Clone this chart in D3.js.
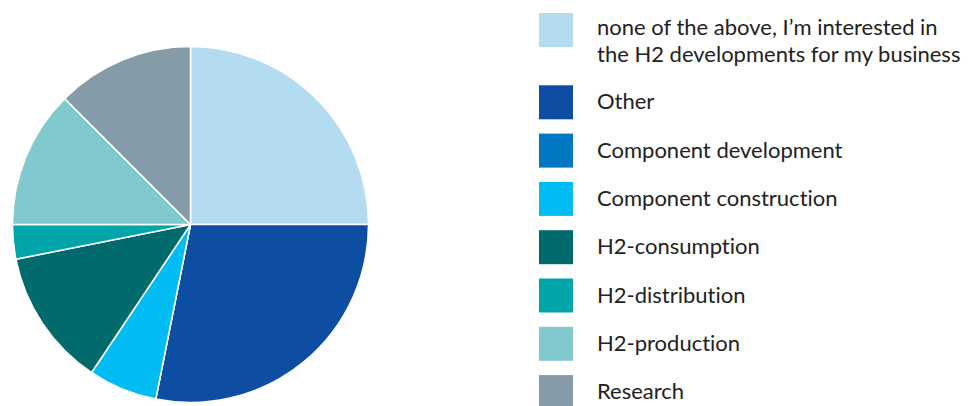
<!DOCTYPE html>
<html>
<head>
<meta charset="utf-8">
<script src="https://cdn.jsdelivr.net/npm/d3@7"></script>
<style>
	body { margin: 0; background: #fff; }
	svg { display: block; }
	.legend text { font-family: Lato, "Noto Sans", sans-serif; font-size: 22px; fill: #222; font-variant-ligatures: none; }
</style>
</head>
<body>
<svg id="chart"></svg>
<script>
// categories, in the order they go round the pie (clockwise from 12 o'clock)
var categories = [
	"none of the above, I\u2019m interested in|the H2 developments for my business",
	"Other",
	"Component development",
	"Component construction",
	"H2-consumption",
	"H2-distribution",
	"H2-production",
	"Research"
];

// number of answers per category
var values = [8, 9, 0, 2, 4, 1, 4, 4];

var colours = ["#b3dcf1", "#0d4ea3", "#0077c0", "#00bcf2", "#006a6c", "#00a5a9", "#80c9cf", "#859ba8"];

var width = 969,
	height = 406;

var svg = d3.select("svg#chart")
	.attr("width", width)
	.attr("height", height);

// ====================================================
// the pie
var radius = 178;

var pie = d3.pie()
	.sort(null)
	.value(function(d) { return d; });

var arc = d3.arc()
	.innerRadius(0)
	.outerRadius(radius);

var g_pie = svg.append("g")
	.attr("transform", "translate(" + 190.5 + "," + 224.5 + ")");

g_pie.selectAll("path")
	.data(pie(values))
	.enter().append("path")
	.attr("d", arc)
	.attr("fill", function(d, i) { return colours[i]; })
	.attr("stroke", "#fff")
	.attr("stroke-width", 1.5)
	.attr("stroke-linejoin", "round");

// ====================================================
// the legend
var sw_size = 34,
	row_step = 48.3,
	line_step = 27;

var legend = svg.append("g")
	.attr("class", "legend")
	.attr("transform", "translate(539,13)");

var y_pos = 0;
categories.forEach(function(c, i) {
	var lines = c.split("|");
	var item = legend.append("g")
		.attr("transform", "translate(0," + y_pos + ")");

	item.append("rect")
		.attr("width", sw_size)
		.attr("height", sw_size)
		.attr("fill", colours[i]);

	var txt = item.append("text")
		.attr("x", 58)
		.attr("y", lines.length > 1 ? 22 : sw_size / 2 + 7);

	lines.forEach(function(l, j) {
		txt.append("tspan")
			.attr("x", 58)
			.attr("dy", j == 0 ? 0 : line_step)
			.text(l);
	});

	y_pos += row_step + (lines.length - 1) * 24;
});
</script>
</body>
</html>
